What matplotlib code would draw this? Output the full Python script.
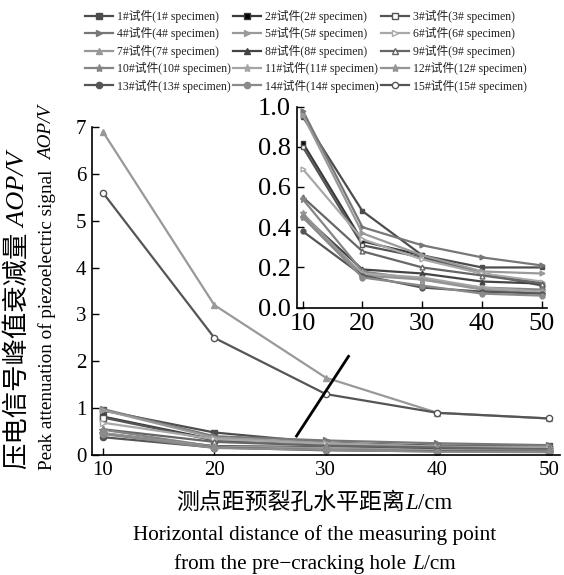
import matplotlib
matplotlib.use("Agg")
import matplotlib.pyplot as plt
from matplotlib.lines import Line2D

FAM = ['Liberation Serif', 'Noto Sans CJK SC']
plt.rcParams['font.family'] = FAM

distances = [10, 20, 30, 40, 50]
labels = [f"{i}#试件({i}# specimen)" for i in range(1, 16)]

s1 = [0.95, 0.48, 0.26, 0.20, 0.20]
s2 = [0.82, 0.33, 0.26, 0.17, 0.12]
s3 = [0.80, 0.31, 0.25, 0.17, 0.11]
s4 = [0.98, 0.40, 0.31, 0.25, 0.21]
s5 = [0.96, 0.37, 0.26, 0.18, 0.17]
s6 = [0.69, 0.34, 0.24, 0.17, 0.13]
s7 = [6.90, 3.20, 1.65, 0.90, 0.78]
s8 = [0.46, 0.19, 0.17, 0.13, 0.12]
s9 = [0.55, 0.28, 0.20, 0.16, 0.12]
s10 = [0.54, 0.18, 0.14, 0.10, 0.09]
s11 = [0.45, 0.17, 0.15, 0.10, 0.08]
s12 = [0.47, 0.16, 0.14, 0.09, 0.07]
s13 = [0.38, 0.16, 0.10, 0.08, 0.07]
s14 = [0.45, 0.15, 0.11, 0.07, 0.06]
s15 = [5.60, 2.50, 1.30, 0.90, 0.78]
series = [s1, s2, s3, s4, s5, s6, s7, s8, s9, s10, s11, s12, s13, s14, s15]
inset_series = [s1, s2, s3, s4, s5, s6, s8, s9, s10, s11, s12, s13, s14]
inset_idx = [0, 1, 2, 3, 4, 5, 7, 8, 9, 10, 11, 12, 13]

# styles: (line color, marker, marker face)
styles = [
    ('#4d4d4d', 's', '#4d4d4d'),
    ('#3a3a3a', 's', '#000000'),
    ('#555555', 's', 'white'),
    ('#777777', '>', '#777777'),
    ('#9a9a9a', '>', '#9a9a9a'),
    ('#a8a8a8', '>', 'white'),
    ('#999999', '^', '#999999'),
    ('#444444', '^', '#444444'),
    ('#666666', '^', 'white'),
    ('#858585', '*', '#858585'),
    ('#a5a5a5', '*', '#a5a5a5'),
    ('#959595', '*', '#959595'),
    ('#555555', 'o', '#555555'),
    ('#8a8a8a', 'o', '#8a8a8a'),
    ('#555555', 'o', 'white'),
]

W, H = 564, 575
fig = plt.figure(figsize=(W / 100, H / 100), dpi=100)

ax = fig.add_axes([91.7 / W, 1 - 455 / H, (560 - 91.7) / W, (455 - 127) / H])
for s, (c, m, fc) in zip(series, styles):
    ax.plot(distances, s, color=c, lw=1.6, marker=m, ms=4.5 if m != '*' else 6,
            mfc=fc, mec=c, mew=1.0)
ax.set_xlim(9.0, 51.0)
ax.set_ylim(0, 7)
ax.set_xticks(distances)
ax.set_yticks(range(0, 8))
for sp in ['top', 'right']:
    ax.spines[sp].set_visible(False)
for sp in ['left', 'bottom']:
    ax.spines[sp].set_linewidth(1.2)
ax.tick_params(direction='in', length=5, width=1.0, labelsize=15, pad=4)
ax.plot([27.3, 32.1], [0.38, 2.13], color='black', lw=2.0, solid_capstyle='butt')

# inset
ai = fig.add_axes([296.7 / W, 1 - 307.7 / H, (546.7 - 296.7) / W, (307.7 - 106.5) / H])
for i, s in zip(inset_idx, inset_series):
    c, m, fc = styles[i]
    ai.plot(distances, s, color=c, lw=1.6, marker=m, ms=3.5 if m != '*' else 5,
            mfc=fc, mec=c, mew=1.0)
ai.set_xlim(9.0, 50.8)
ai.set_ylim(0, 1.0)
ai.set_xticks(distances)
ai.set_yticks([0.0, 0.2, 0.4, 0.6, 0.8, 1.0])
ai.set_yticklabels([f"{v:.1f}" for v in [0.0, 0.2, 0.4, 0.6, 0.8, 1.0]])
for sp in ['top', 'right']:
    ai.spines[sp].set_visible(False)
for sp in ['left', 'bottom']:
    ai.spines[sp].set_linewidth(1.2)
ai.tick_params(direction='in', length=5, width=1.0, labelsize=19, pad=4)

# legend (row-wise order in 3 columns)
handles = [Line2D([], [], color=c, lw=1.6, marker=m, ms=4.5 if m != '*' else 6,
                  mfc=fc, mec=c, mew=1.0) for (c, m, fc) in styles]
nrow, ncol = 5, 3
order = [r * ncol + c for c in range(ncol) for r in range(nrow)]
fig.legend([handles[k] for k in order], [labels[k] for k in order],
           loc='upper left', bbox_to_anchor=(85 / W, 1 - 10 / H),
           ncol=ncol, frameon=False, fontsize=8.5, handlelength=2.4, handletextpad=0.3,
           columnspacing=0.2, labelspacing=0.36, borderaxespad=0, borderpad=0)
for t in fig.legends[0].get_texts():
    t.set_color('#222222')

fig.canvas.draw()
r = fig.canvas.get_renderer()


def mixed(cx, cy, parts, size, rot=0):
    texts = []
    for s, style in parts:
        t = fig.text(0, 0, s, fontsize=size, family=FAM, style=style, rotation=rot,
                     rotation_mode='anchor', ha='left', va='baseline',
                     transform=None)
        texts.append(t)
    fig.canvas.draw()
    lens = []
    for t in texts:
        bb = t.get_window_extent(r)
        lens.append(bb.height if rot else bb.width)
    total = sum(lens)
    pos = (cy if rot else cx) - total / 2
    for t, L in zip(texts, lens):
        if rot:
            t.set_position((cx, pos))
        else:
            t.set_position((pos, cy))
        pos += L


# pixel coords: origin bottom-left
mixed(24, H - 310, [("压电信号峰值衰减量", 'normal'), (" AOP/V", 'italic')], 19, rot=90)
mixed(52, H - 288, [("Peak attenuation of piezoelectric signal  ", 'normal'), ("AOP/V", 'italic')], 13.8, rot=90)
mixed(314, H - 509, [("测点距预裂孔水平距离", 'normal'), ("L", 'italic'), ("/cm", 'normal')], 16.5)
mixed(315, H - 540, [("Horizontal distance of the measuring point", 'normal')], 15.3)
mixed(315, H - 569, [("from the pre\u2212cracking hole ", 'normal'), ("L", 'italic'), ("/cm", 'normal')], 15.3)

fig.savefig('out.png', dpi=100)
